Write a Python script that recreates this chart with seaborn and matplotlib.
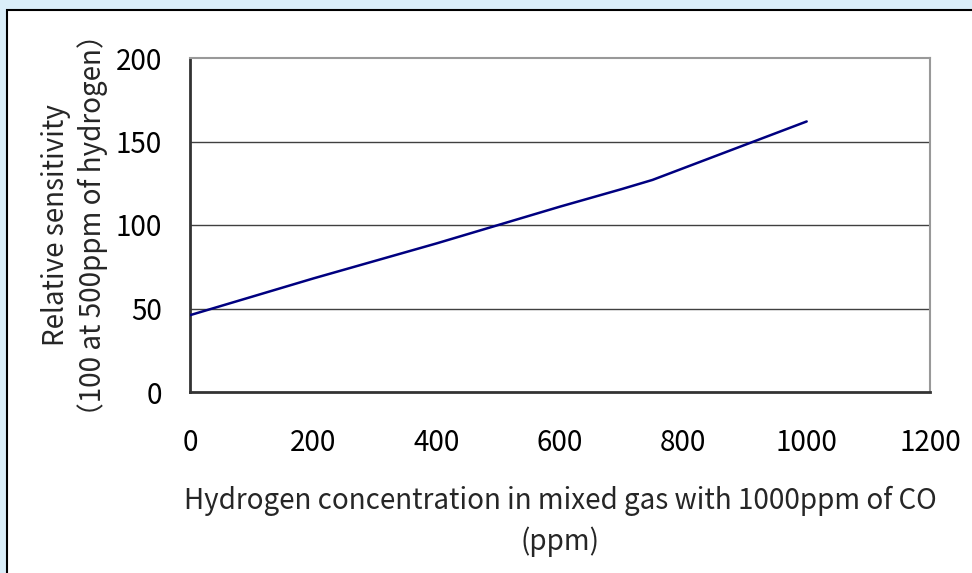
import matplotlib
matplotlib.use('Agg')
import matplotlib.pyplot as plt
import matplotlib.patches as patches
import seaborn as sns
import pandas as pd

hydrogen_ppm = [0, 100, 200, 300, 400, 500, 600, 700, 750, 800, 900, 1000]
relative_sensitivity = [46, 57, 68, 78.5, 89, 100, 111, 121.5, 127, 134, 148, 162]

x_ticks = [0, 200, 400, 600, 800, 1000, 1200]
y_ticks = [0, 50, 100, 150, 200]

df = pd.DataFrame({'ppm': hydrogen_ppm, 'sens': relative_sensitivity})

sns.set_style('white')
plt.rcParams['font.family'] = ['Noto Sans CJK JP', 'DejaVu Sans']

fig = plt.figure(figsize=(9.72, 5.73), dpi=100)
fig.patch.set_facecolor('#daeef9')

W, H = 972, 573
panel = patches.Rectangle((7 / W, -0.05), 1.1, (H - 10) / H + 0.05,
                          transform=fig.transFigure, facecolor='white',
                          edgecolor='black', linewidth=1.5, zorder=-5)
fig.add_artist(panel)

ax = fig.add_axes([190 / W, (H - 392) / H, 740 / W, 334 / H])
ax.set_facecolor('white')

for v in y_ticks[1:-1]:
    ax.axhline(v, color='#404040', linewidth=1, zorder=1)

sns.lineplot(data=df, x='ppm', y='sens', ax=ax, color='#000080',
             linewidth=1.8, zorder=3)

ax.set_xlim(0, 1200)
ax.set_ylim(0, 200)
ax.set_xticks(x_ticks)
ax.set_yticks(y_ticks)
ax.tick_params(axis='both', direction='in', length=10, width=1,
               color='#333333', labelsize=20, labelcolor='black')
ax.tick_params(axis='x', pad=26)
ax.tick_params(axis='y', pad=20)

for side in ['left', 'bottom']:
    ax.spines[side].set_color('#333333')
    ax.spines[side].set_linewidth(2)
for side in ['top', 'right']:
    ax.spines[side].set_color('#999999')
    ax.spines[side].set_linewidth(1.5)

ax.set_xlabel('Hydrogen concentration in mixed gas with 1000ppm of CO\n(ppm)',
              fontsize=20, labelpad=20, linespacing=1.45)
ax.set_ylabel('Relative sensitivity\n（100 at 500ppm of hydrogen）',
              fontsize=20, labelpad=6, linespacing=1.25)

fig.savefig('out.png', dpi=100, facecolor=fig.get_facecolor())
